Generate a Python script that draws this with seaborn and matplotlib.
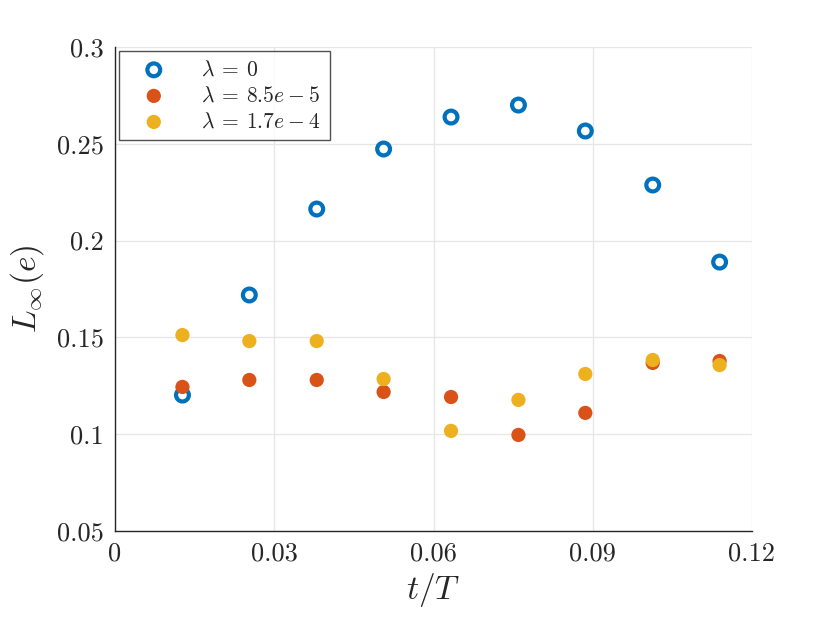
import numpy as np
import pandas as pd
import matplotlib
matplotlib.use("Agg")
import matplotlib.pyplot as plt
import seaborn as sns

# values
t_over_T = [0.0127, 0.0253, 0.0380, 0.0506, 0.0633, 0.0760, 0.0886, 0.1013, 0.1139]
err_lam0 = [0.1202, 0.1719, 0.2163, 0.2473, 0.2638, 0.2700, 0.2566, 0.2287, 0.1889]
err_lam1 = [0.1244, 0.1280, 0.1280, 0.1218, 0.1192, 0.0996, 0.1110, 0.1368, 0.1378]
err_lam2 = [0.1512, 0.1481, 0.1481, 0.1285, 0.1017, 0.1177, 0.1311, 0.1383, 0.1357]
labels = [r"$\lambda\:=\:0$", r"$\lambda\:=\:8.5e\:-\:5$", r"$\lambda\:=\:1.7e\:-\:4$"]
colors = ["#0072BD", "#D95319", "#EDB120"]

x_ticks = [0, 0.03, 0.06, 0.09, 0.12]
x_ticklabels = ["0", "0.03", "0.06", "0.09", "0.12"]
y_ticks = [0.05, 0.1, 0.15, 0.2, 0.25, 0.3]
y_ticklabels = ["0.05", "0.1", "0.15", "0.2", "0.25", "0.3"]

sns.set_style("white")
plt.rcParams["mathtext.fontset"] = "cm"
plt.rcParams["font.family"] = ["cmr10", "DejaVu Serif"]
plt.rcParams["axes.unicode_minus"] = False

fig = plt.figure(figsize=(8.3, 6.23), dpi=100)
ax = fig.add_axes([0.1386, 0.1477, 0.9060 - 0.1386, 0.9246 - 0.1477])

df = pd.DataFrame({"t": t_over_T, "e0": err_lam0, "e1": err_lam1, "e2": err_lam2})

sns.scatterplot(data=df, x="t", y="e0", ax=ax, marker="o", s=85,
                facecolor="none", edgecolor=colors[0], linewidth=3.0,
                label=labels[0], zorder=3)
sns.scatterplot(data=df, x="t", y="e1", ax=ax, marker="o", s=105,
                color=colors[1], edgecolor="none", label=labels[1], zorder=3)
sns.scatterplot(data=df, x="t", y="e2", ax=ax, marker="o", s=105,
                color=colors[2], edgecolor="none", label=labels[2], zorder=3)

ax.set_xlim(0, 0.12)
ax.set_ylim(0.05, 0.3)
ax.set_xticks(x_ticks)
ax.set_xticklabels(x_ticklabels)
ax.set_yticks(y_ticks)
ax.set_yticklabels(y_ticklabels)
ax.tick_params(direction="in", length=6, width=1, colors="#262626",
               labelsize=19, labelcolor="#262626", pad=8)
ax.grid(True, color="#e6e6e6", linewidth=0.9)
ax.set_axisbelow(True)
for side in ["top", "right"]:
    ax.spines[side].set_visible(False)
for side in ["left", "bottom"]:
    ax.spines[side].set_color("#262626")
    ax.spines[side].set_linewidth(1.0)

ax.set_xlabel(r"$t/T$", fontsize=24, color="#262626", labelpad=4)
ax.set_ylabel(r"$L_\infty(e)$", fontsize=24, color="#262626", labelpad=8)

leg = ax.legend(loc="upper left", fontsize=15.5, frameon=True, fancybox=False,
                borderaxespad=0.2, handletextpad=1.0, borderpad=0.4,
                labelspacing=0.3, handlelength=2.4)
leg.get_frame().set_edgecolor("#262626")
leg.get_frame().set_linewidth(1.0)

fig.savefig("out.png", dpi=100)
